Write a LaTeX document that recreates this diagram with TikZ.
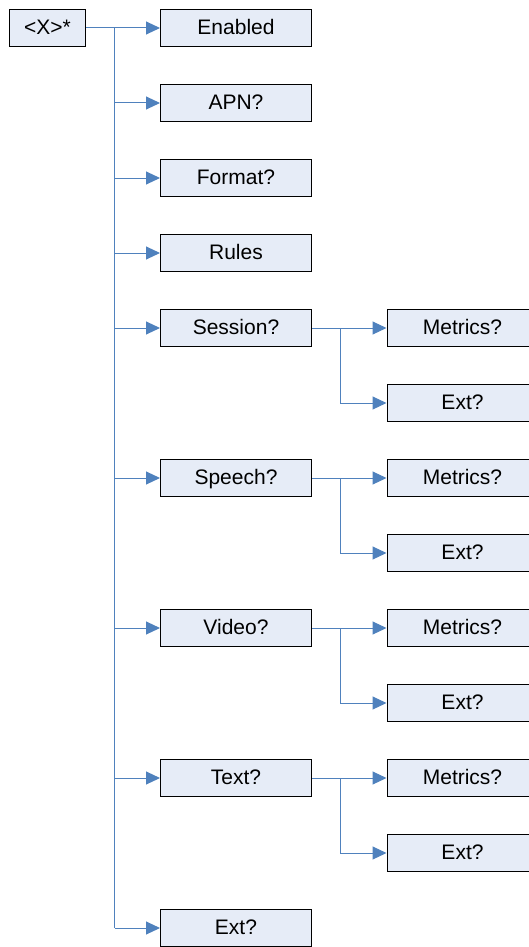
\documentclass[tikz,border=0pt]{standalone}
\usepackage{fontspec}
\setmainfont{Liberation Sans}
\usetikzlibrary{arrows.meta}
\definecolor{linkblue}{HTML}{4F81BD}
\definecolor{boxfill}{HTML}{E6ECF7}
\tikzset{
  box/.style={draw=black, line width=1pt, fill=boxfill, minimum width=151pt, minimum height=37pt, inner sep=0pt, text height=15pt, text depth=2.4pt, font=\fontsize{21}{25}\selectfont},
  link/.style={draw=linkblue, line width=1pt},
  conn/.style={link, -{Triangle[length=14pt,width=13pt]}, color=linkblue}
}
\begin{document}
\begin{tikzpicture}[x=1pt,y=-1pt]
\useasboundingbox (0,0) rectangle (529,947);
\node[box, minimum width=76pt] (root) at (47.5,28) {<X>*};
\node[box] (en) at (236,28) {Enabled};
\node[box] (apn) at (236,103) {APN?};
\node[box] (fmt) at (236,178) {Format?};
\node[box] (rules) at (236,253) {Rules};
\node[box] (ses) at (236,328) {Session?};
\node[box] (sesm) at (462.5,328) {Metrics?};
\node[box] (sese) at (462.5,403) {Ext?};
\node[box] (sp) at (236,478) {Speech?};
\node[box] (spm) at (462.5,478) {Metrics?};
\node[box] (spe) at (462.5,553) {Ext?};
\node[box] (vid) at (236,628) {Video?};
\node[box] (vidm) at (462.5,628) {Metrics?};
\node[box] (vide) at (462.5,703) {Ext?};
\node[box] (txt) at (236,778) {Text?};
\node[box] (txtm) at (462.5,778) {Metrics?};
\node[box] (txte) at (462.5,853) {Ext?};
\node[box] (ext) at (236,928) {Ext?};
% main trunk
\coordinate (trunk) at (114.5,28);
\draw[conn] (root.east) -- (en.west);
\draw[link] (trunk) -- (ext.west -| trunk);
\foreach \n in {apn,fmt,rules,ses,sp,vid,txt,ext}{
  \draw[conn] (\n.west -| trunk) -- (\n.west);
}
% sub trunks
\coordinate (sub) at (340,0);
\foreach \p/\m/\e in {ses/sesm/sese, sp/spm/spe, vid/vidm/vide, txt/txtm/txte}{
  \draw[conn] (\p.east) -- (\m.west);
  \draw[link] (\p.east -| sub) -- (\e.west -| sub);
  \draw[conn] (\e.west -| sub) -- (\e.west);
}
\end{tikzpicture}
\end{document}
